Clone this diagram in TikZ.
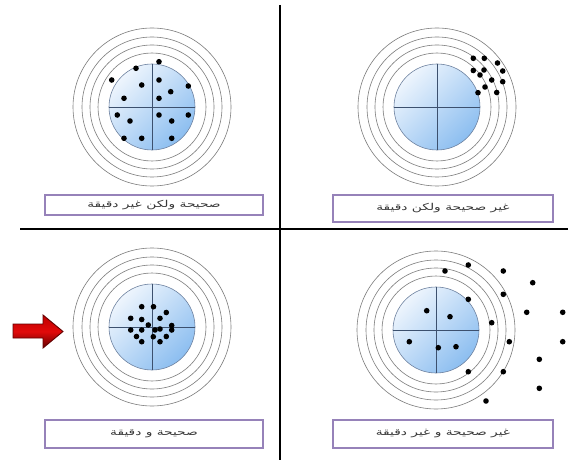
\documentclass[tikz,border=0pt]{standalone}
\usepackage{fontspec}
\usepackage{graphicx}
\newfontfamily\arabicfont[Script=Arabic]{DejaVu Sans}
\TeXXeTstate=1
\definecolor{bullhi}{RGB}{238,245,253}
\definecolor{bulllo}{RGB}{140,190,240}
\definecolor{bulledge}{RGB}{110,130,160}
\definecolor{crossc}{RGB}{60,80,110}
\definecolor{ringc}{RGB}{125,125,125}
\definecolor{boxc}{RGB}{150,130,185}
\definecolor{txtc}{RGB}{55,55,55}
\definecolor{arrowred}{RGB}{225,10,10}
\definecolor{arrowmid}{RGB}{190,0,0}
\definecolor{arrowdark}{RGB}{100,0,0}
\newcommand{\arlabel}[1]{\scalebox{1.45}[1]{\beginR #1\endR}}
\tikzset{
  ring/.style={draw=ringc, line width=0.6pt},
  divider/.style={draw=black, line width=2pt},
  lbl/.style={draw=boxc, line width=1.3pt, fill=white, inner sep=0pt,
    font=\arabicfont\fontsize{9.5}{10}\selectfont, text=txtc},
  hit/.style={fill=black},
  target/.pic={
    \foreach \r in {79,70,62,54} \draw[ring] (0,0) circle[radius=\r];
    \shade[top color=bullhi, bottom color=bulllo, shading angle=45] (0,0) circle[radius=43];
    \draw[bulledge, line width=0.6pt] (0,0) circle[radius=43];
    \draw[crossc, line width=0.8pt] (-43,0) -- (43,0) (0,-43) -- (0,43);
  }
}
\begin{document}
\begin{tikzpicture}[x=1pt,y=-1pt]
\useasboundingbox (0,0) rectangle (571,460);
\fill[white] (0,0) rectangle (571,460);
% dividers
\draw[divider] (280,5) -- (280,460);
\draw[divider] (20,229) -- (568,229);
% targets
\pic at (152,107) {target};
\pic at (437,107) {target};
\pic at (152,327) {target};
\pic at (436,330) {target};
% top-left hits
\foreach \x/\y in {111.7/80,136/68.3,159/61.7,141.7/85,159/80,170.7/91.7,188.3/86,124/98.3,159/98.3,117.3/115,130/121,159/115,171.7/121,188.3/115,124/138.3,141.7/138.3,171.7/138.3}
  \fill[hit] (\x,\y) circle[radius=2.8];
% top-right hits
\foreach \x/\y in {473.3/58.3,484.3/58.3,497.5/63,473.3/70.5,484/70,502.7/71,480/75,491.7/80,502.7/81.7,485/87,478/92.7,496.7/92.5}
  \fill[hit] (\x,\y) circle[radius=2.8];
% bottom-left hits
\foreach \x/\y in {141.7/306.7,153.5/306.7,130.7/318.3,141.7/319.5,160/318.3,166.3/312.5,148.3/325,130.7/330,141.7/330,155/330,160/329,171.7/325.5,171.7/330,136.5/336.5,153.3/336.7,166.3/336.5,141.7/341.7,160/341.7}
  \fill[hit] (\x,\y) circle[radius=2.8];
% bottom-right hits
\foreach \x/\y in {445/271,468.3/265,503.3/271,532.7/282.7,503.3/294.3,468.3/299.3,526.7/312.3,562.7/312.3,491.7/322.7,426.7/310.7,450/316.7,409.3/341.7,438.3/347.7,456/346.7,509.3/341.7,562.7/341.7,539.3/359.3,468.3/371.7,503.3/371.7,539.3/388.3,486/401}
  \fill[hit] (\x,\y) circle[radius=2.8];
% arrow
\shade[top color=arrowmid, bottom color=arrowdark, middle color=arrowred, draw=arrowdark, line width=0.9pt]
  (13,324) -- (43,324) -- (43,315) -- (63,331.5) -- (43,348) -- (43,338) -- (13,338) -- cycle;
% labels
\node[lbl, minimum width=218, minimum height=20] (tl) at (154,205) {\arlabel{صحيحة ولكن غير دقيقة}};
\node[lbl, minimum width=220, minimum height=27] (tr) at (443,208.5) {\arlabel{غير صحيحة ولكن دقيقة}};
\node[lbl, minimum width=218, minimum height=28] (bl) at (154,434) {\arlabel{صحيحة و دقيقة}};
\node[lbl, minimum width=220, minimum height=28] (br) at (443,434) {\arlabel{غير صحيحة و غير دقيقة}};
\end{tikzpicture}
\end{document}
